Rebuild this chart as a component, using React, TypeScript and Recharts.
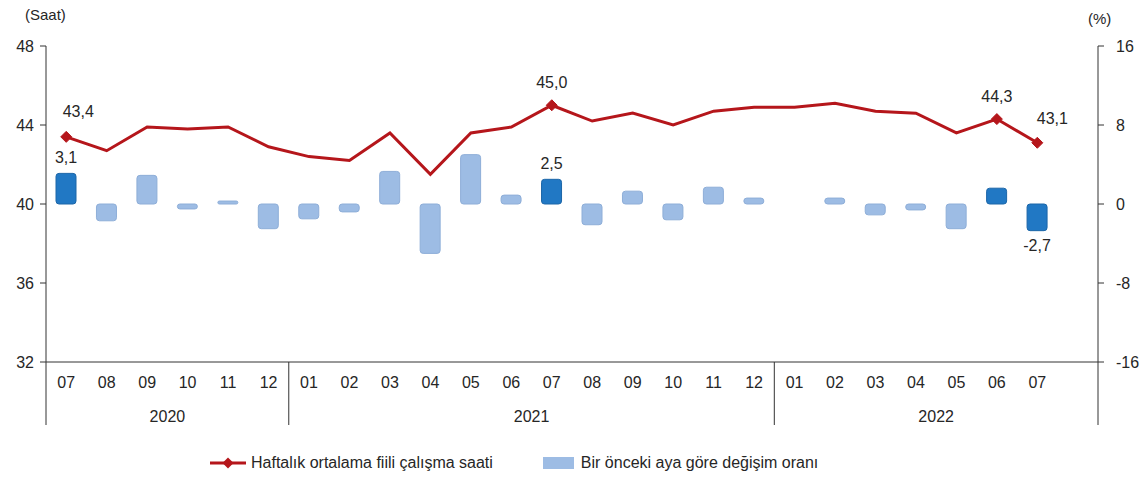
import React from 'react';
import { ComposedChart, Bar, Line, XAxis, YAxis, Cell, LabelList } from 'recharts';

const months = ['07','08','09','10','11','12','01','02','03','04','05','06','07','08','09','10','11','12','01','02','03','04','05','06','07',''];
const years = ['2020','2020','2020','2020','2020','2020','2021','2021','2021','2021','2021','2021','2021','2021','2021','2021','2021','2021','2022','2022','2022','2022','2022','2022','2022','2022'];
const hours: (number | null)[] = [43.4,42.7,43.9,43.8,43.9,42.9,42.4,42.2,43.6,41.5,43.6,43.9,45.0,44.2,44.6,44.0,44.7,44.9,44.9,45.1,44.7,44.6,43.6,44.3,43.1,null];
const change: (number | null)[] = [3.1,-1.7,2.9,-0.5,0.3,-2.5,-1.5,-0.8,3.3,-5.0,5.0,0.9,2.5,-2.1,1.3,-1.6,1.7,0.6,0,0.6,-1.1,-0.6,-2.5,1.6,-2.7,null];
const highlighted = [0, 12, 23, 24];
const hoursTicks = [32, 36, 40, 44, 48];
const changeTicks = [-16, -8, 0, 8, 16];
const yearLabels = ['2020', '2021', '2022'];

const data = months.map((m, i) => ({
  key: i,
  month: m,
  year: years[i],
  hours: hours[i],
  change: change[i],
}));

const W = 1148;
const H = 480;
const PLOT_L = 46;
const PLOT_R = 1098;
const BAND = (PLOT_R - PLOT_L) / months.length;
const FONT = '"Liberation Sans", Arial, sans-serif';
const FS = 16;
const TXT = '#262626';
const RED = '#b5161b';
const DARK = '#2178c4';
const LIGHT = '#9dbce4';

const fmt = (v: number) => v.toFixed(1).replace('.', ',');

const MonthTick = (props: any) => {
  const { x, y, payload } = props;
  const m = months[payload.value];
  return (
    <text x={x} y={y + 26} textAnchor="middle" fontSize={FS} fill={TXT} fontFamily={FONT}>
      {m}
    </text>
  );
};

const YearTick = (props: any) => {
  const { x, y, payload } = props;
  const i = payload.value as number;
  const items: React.ReactNode[] = [];
  const top = y - 30;
  const bottom = y + 33;
  const isStart = i === 0 || years[i] !== years[i - 1];
  if (isStart) {
    items.push(<line key="s" x1={x - BAND / 2} x2={x - BAND / 2} y1={top} y2={bottom} stroke="#333" strokeWidth={1} />);
  }
  if (i === months.length - 1) {
    items.push(<line key="e" x1={x + BAND / 2} x2={x + BAND / 2} y1={top} y2={bottom} stroke="#333" strokeWidth={1} />);
  }
  const idxs = years.map((yv, k) => (yv === years[i] ? k : -1)).filter((k) => k >= 0);
  const first = idxs[0];
  const last = idxs[idxs.length - 1];
  const mid = (first + last) / 2;
  if (Math.floor(mid) === i && yearLabels.includes(years[i])) {
    const off = (mid - i) * BAND;
    items.push(
      <text key="t" x={x + off} y={y + 30} textAnchor="middle" fontSize={FS} fill={TXT} fontFamily={FONT}>
        {years[i]}
      </text>
    );
  }
  return <g>{items}</g>;
};

const lineLabelPos: Record<number, [number, number]> = {
  0: [12, -20],
  12: [0, -17],
  23: [0, -17],
  24: [15, -19],
};

const LineLabel = (props: any) => {
  const { x, y, index, value } = props;
  if (!(index in lineLabelPos) || value == null) return null;
  const [dx, dy] = lineLabelPos[index];
  return (
    <text x={x + dx} y={y + dy} textAnchor="middle" fontSize={FS} fill={TXT} fontFamily={FONT}>
      {fmt(value)}
    </text>
  );
};

const BarLabel = (props: any) => {
  const { x, y, width, height, index, value } = props;
  if (!highlighted.includes(index) || value == null) return null;
  const cx = x + width / 2;
  const neg = value < 0;
  const top = Math.min(y, y + height);
  const bot = Math.max(y, y + height);
  return (
    <text x={cx} y={neg ? bot + 20 : top - 10} textAnchor="middle" fontSize={FS} fill={TXT} fontFamily={FONT}>
      {fmt(value)}
    </text>
  );
};

const Diamond = (props: any) => {
  const { cx, cy, index } = props;
  if (!highlighted.includes(index) || cx == null || cy == null) return <g key={`d${index}`} />;
  const s = 5.5;
  return (
    <path
      key={`d${index}`}
      d={`M${cx},${cy - s} L${cx + s},${cy} L${cx},${cy + s} L${cx - s},${cy} Z`}
      fill={RED}
      stroke={RED}
    />
  );
};

export default function App() {
  return (
    <div style={{ position: 'absolute', left: 0, top: 0, width: W, height: H, background: '#fff', fontFamily: FONT }}>
      <ComposedChart
        width={W}
        height={H}
        data={data}
        margin={{ top: 46, right: 10, left: 6, bottom: 53 }}
        barCategoryGap={0}
      >
        <XAxis
          xAxisId="m"
          dataKey="key"
          type="category"
          interval={0}
          height={30}
          tickLine={false}
          axisLine={{ stroke: '#333' }}
          tick={<MonthTick />}
          tickSize={0}
          tickMargin={0}
        />
        <XAxis
          xAxisId="y"
          dataKey="key"
          type="category"
          interval={0}
          height={35}
          tickLine={false}
          axisLine={false}
          tick={<YearTick />}
          tickSize={0}
          tickMargin={0}
        />
        <YAxis
          yAxisId="l"
          orientation="left"
          width={40}
          domain={[32, 48]}
          ticks={hoursTicks}
          interval={0}
          axisLine={{ stroke: '#333' }}
          tickLine={{ stroke: '#333' }}
          tickSize={6}
          tickMargin={6}
          tick={{ fontSize: FS, fill: TXT, fontFamily: FONT }}
        />
        <YAxis
          yAxisId="r"
          orientation="right"
          width={40}
          domain={[-16, 16]}
          ticks={changeTicks}
          interval={0}
          axisLine={{ stroke: '#333' }}
          tickLine={{ stroke: '#333' }}
          tickSize={6}
          tickMargin={12}
          tick={{ fontSize: FS, fill: TXT, fontFamily: FONT }}
        />
        <Bar xAxisId="m" yAxisId="r" dataKey="change" barSize={20} radius={3} isAnimationActive={false}>
          {data.map((d, i) => (
            <Cell
              key={i}
              fill={highlighted.includes(i) ? DARK : LIGHT}
              stroke={highlighted.includes(i) ? '#1c66a8' : '#8eaed8'}
              strokeWidth={1}
            />
          ))}
          <LabelList dataKey="change" content={<BarLabel />} />
        </Bar>
        <Line
          xAxisId="m"
          yAxisId="l"
          dataKey="hours"
          type="linear"
          stroke={RED}
          strokeWidth={3}
          dot={<Diamond />}
          activeDot={false}
          isAnimationActive={false}
        >
          <LabelList dataKey="hours" content={<LineLabel />} />
        </Line>
      </ComposedChart>
      <div style={{ position: 'absolute', left: 25, top: 6, fontSize: 15, color: TXT }}>(Saat)</div>
      <div style={{ position: 'absolute', left: 1088, top: 10, fontSize: 15, color: TXT }}>(%)</div>
      <div style={{ position: 'absolute', left: 208, top: 454, display: 'flex', alignItems: 'center', fontSize: FS, color: TXT }}>
        <svg width={40} height={14}>
          <line x1={2} x2={38} y1={7} y2={7} stroke={RED} strokeWidth={3} />
          <path d="M20,1.5 L25.5,7 L20,12.5 L14.5,7 Z" fill={RED} />
        </svg>
        <span style={{ marginLeft: 3 }}>Haftalık ortalama fiili çalışma saati</span>
        <svg width={34} height={14} style={{ marginLeft: 48 }}>
          <rect x={2} y={1} width={31} height={12} fill={LIGHT} />
        </svg>
        <span style={{ marginLeft: 6 }}>Bir önceki aya göre değişim oranı</span>
      </div>
    </div>
  );
}
